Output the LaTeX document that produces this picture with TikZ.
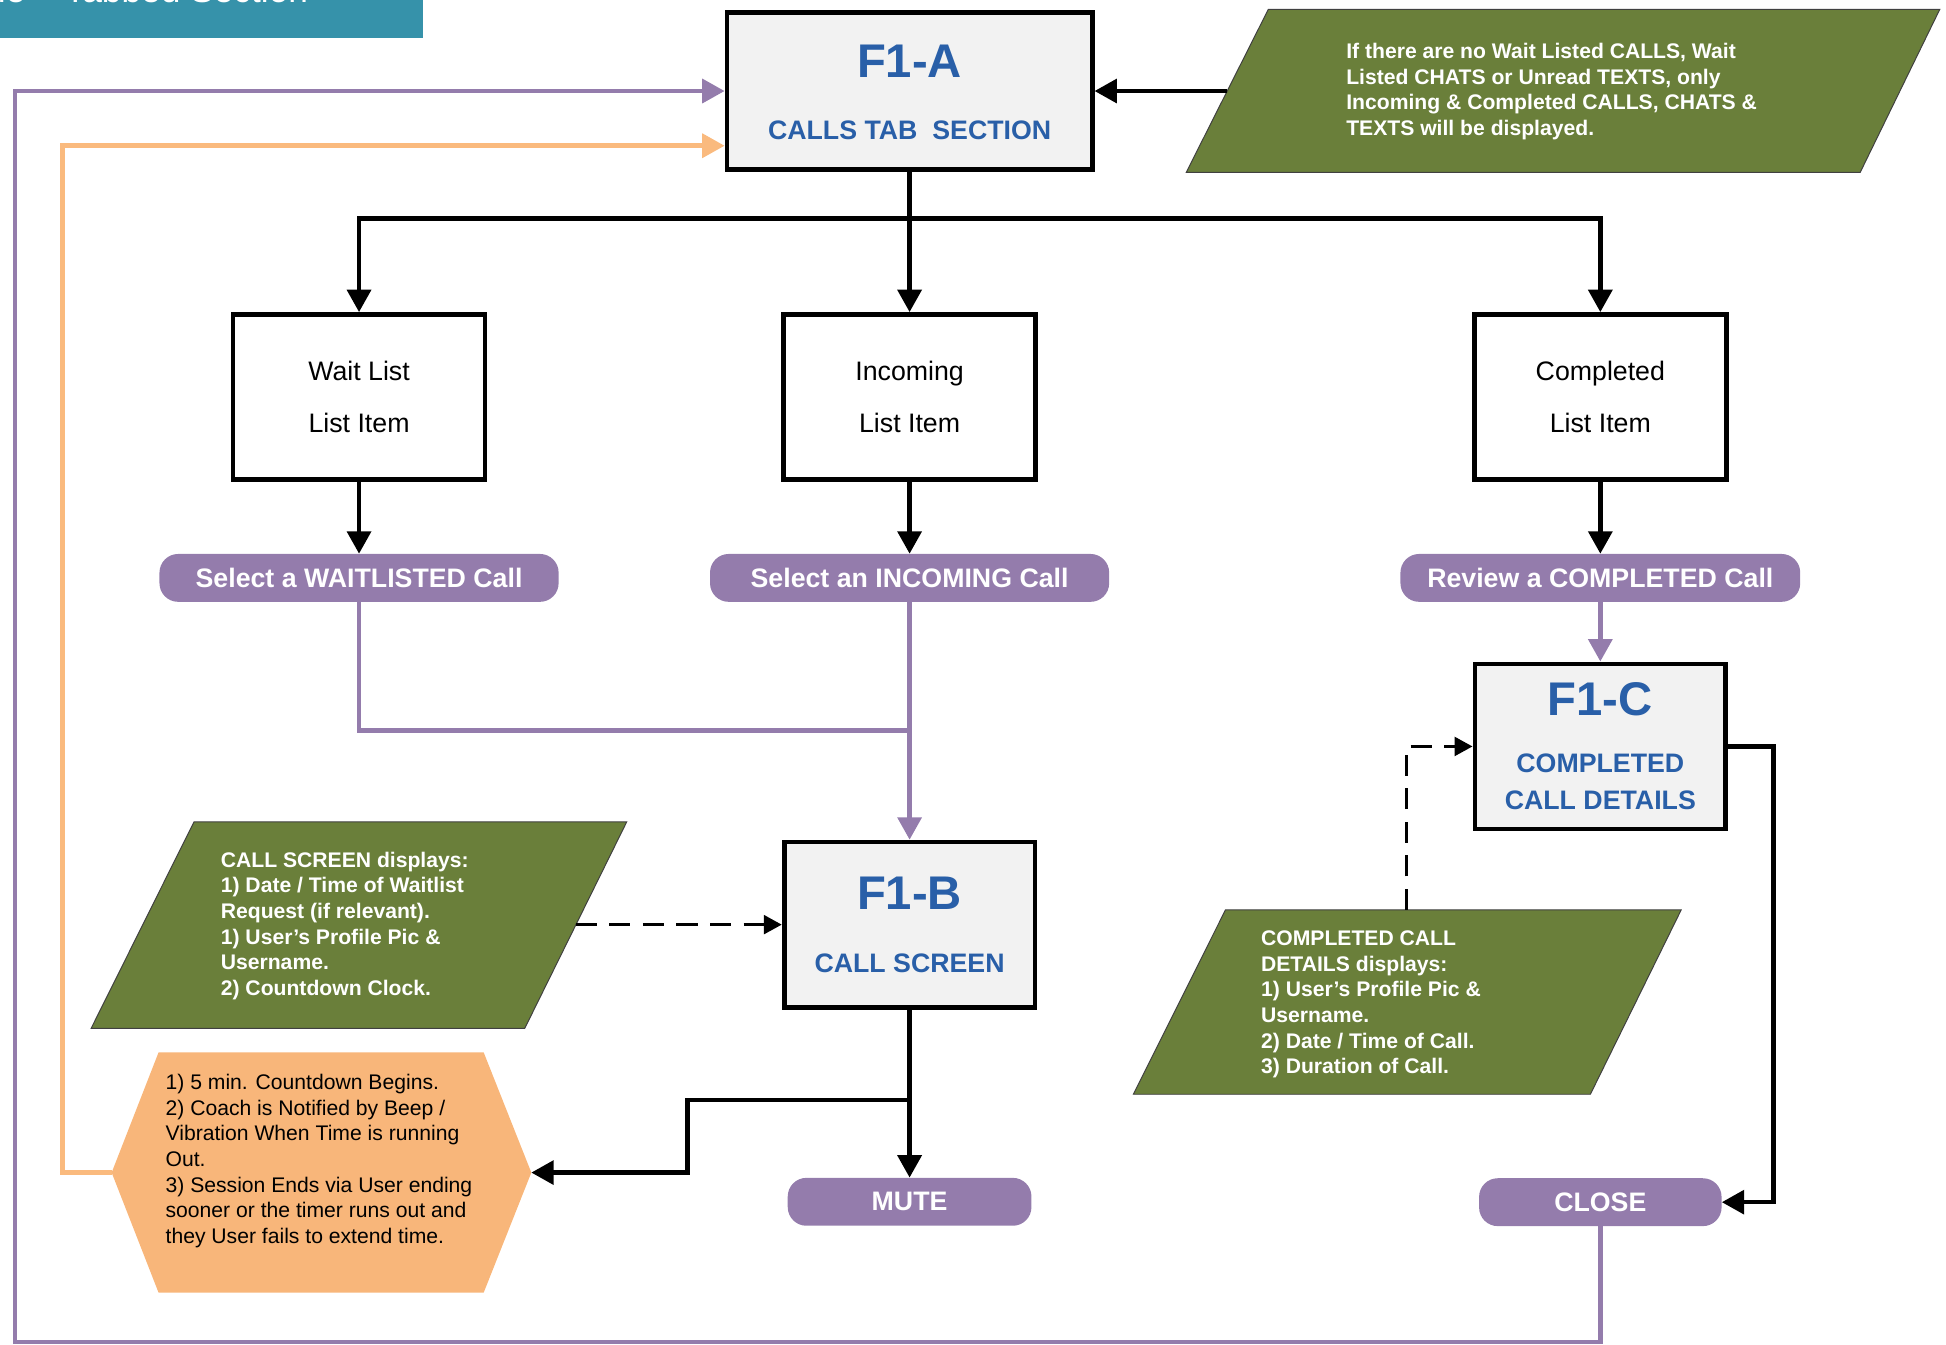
\documentclass[tikz,border=0pt]{standalone}
\usepackage{fontspec}
\setmainfont{Liberation Sans}
\usetikzlibrary{arrows.meta}
\definecolor{notegreen}{RGB}{106,127,58}
\definecolor{pillpurple}{RGB}{148,124,172}
\definecolor{hexorange}{RGB}{248,182,122}
\definecolor{lineorange}{RGB}{250,186,126}
\definecolor{titleblue}{RGB}{41,95,168}
\definecolor{boxgray}{RGB}{242,242,242}
\definecolor{headerteal}{RGB}{54,146,170}
\begin{document}
\begin{tikzpicture}[x=1pt,y=-1pt,
  fbox/.style={draw=black,line width=3.8pt,fill=boxgray,minimum width=201.7pt,minimum height=132.8pt,inner sep=0pt},
  listbox/.style={draw=black,line width=3.8pt,fill=white,minimum width=202.7pt,minimum height=132.8pt,inner sep=0pt,align=center,font=\fontsize{21.5}{42}\selectfont},
  ftitle/.style={inner sep=0pt,text=titleblue,font=\fontsize{38}{40}\selectfont\bfseries,anchor=base},
  fsub/.style={inner sep=0pt,text=titleblue,font=\fontsize{21.5}{25}\selectfont\bfseries,anchor=base},
  pill/.style={fill=pillpurple,rounded corners=15pt,minimum height=38.5pt,inner sep=0pt,text=white,font=\fontsize{21.5}{25}\selectfont\bfseries},
  note/.style={fill=notegreen,draw=black!75,line width=0.8pt},
  notetext/.style={inner sep=0pt,anchor=west,align=left,text=white,font=\fontsize{17}{20.65}\selectfont\bfseries},
  hextext/.style={inner sep=0pt,anchor=west,align=left,text=black,font=\fontsize{17}{20.63}\selectfont},
  conn/.style={draw=black,line width=3.6pt},
  arr/.style={conn,-{Triangle[length=18pt,width=19pt]}},
  pline/.style={draw=pillpurple,line width=3.6pt},
  parr/.style={pline,-{Triangle[length=18pt,width=19pt]}},
  oarr/.style={draw=lineorange,line width=3.6pt,-{Triangle[length=18pt,width=19pt]}},
  darr/.style={draw=black,line width=2.8pt,dash pattern=on 17pt off 10pt,-{Triangle[length=14.5pt,width=15pt]}}
]
\useasboundingbox (0,0) rectangle (1565,1080.9);

% header
\fill[headerteal] (0,0) rectangle (340,30.3);
\node[anchor=base east,inner sep=0pt,text=white,font=\fontsize{28.4}{30}\selectfont] (title) at (248,2.4) {le – Tabbed Section};

% shapes: notes and hexagon
\path[note] (954,138.6) -- (1020,7.5) -- (1560,7.5) -- (1496,138.6) -- cycle;
\node[notetext] (n1t) at (1082.5,73.7) {If there are no Wait Listed CALLS, Wait\\Listed CHATS or Unread TEXTS, only\\Incoming \& Completed CALLS, CHATS \&\\TEXTS will be displayed.};
\coordinate (n1w) at (987,73.2);

\path[note] (73.3,827) -- (156,661) -- (504,661) -- (422,827) -- cycle;
\node[notetext] (n2t) at (177.4,744.6) {CALL SCREEN displays:\\1) Date / Time of Waitlist\\Request (if relevant).\\1) User’s Profile Pic \&\\Username.\\2) Countdown Clock.};
\coordinate (n2e) at (463,743.6);

\path[note] (911.5,880) -- (985.5,731.8) -- (1352,731.8) -- (1279,880) -- cycle;
\node[notetext] (n3t) at (1014,807.8) {COMPLETED CALL\\DETAILS displays:\\1) User’s Profile Pic \&\\Username.\\2) Date / Time of Call.\\3) Duration of Call.};
\coordinate (n3n) at (1131,731.8);

\fill[hexorange] (89.8,943) -- (127.5,846.4) -- (389,846.4) -- (427.3,943) -- (389,1039.5) -- (127.5,1039.5) -- cycle;
\node[hextext] (hext) at (133,933.8) {1) 5 min. Countdown Begins.\\2) Coach is Notified by Beep /\\Vibration When Time is running\\Out.\\3) Session Ends via User ending\\sooner or the timer runs out and\\they User fails to extend time.};
\coordinate (hexw) at (89.8,943);
\coordinate (hexe) at (427.3,943);

% F boxes
\node[fbox,minimum width=293.7pt,minimum height=126.6pt] (f1a) at (731.5,73.2) {};
\node[ftitle] (f1a-id) at (731.5,62) {F1-A};
\node[fsub] (f1a-name) at (731.5,112) {CALLS TAB\ \ SECTION};

\node[fbox] (f1b) at (731.5,743.6) {};
\node[ftitle] (f1b-id) at (731.5,731.8) {F1-B};
\node[fsub] (f1b-name) at (731.5,782.2) {CALL SCREEN};

\node[fbox] (f1c) at (1287,600.3) {};
\node[ftitle] (f1c-id) at (1287,575.6) {F1-C};
\node[fsub] (f1c-name1) at (1287,621.5) {COMPLETED};
\node[fsub] (f1c-name2) at (1287,651) {CALL DETAILS};

% list boxes
\node[listbox] (wl) at (288.75,319.3) {Wait List\\List Item};
\node[listbox] (inc) at (731.5,319.3) {Incoming\\List Item};
\node[listbox] (comp) at (1287,319.3) {Completed\\List Item};

% pills
\node[pill,minimum width=321pt] (selw) at (288.75,464.75) {Select a WAITLISTED Call};
\node[pill,minimum width=321pt] (seli) at (731.5,464.75) {Select an INCOMING Call};
\node[pill,minimum width=321.5pt] (revc) at (1287,464.75) {Review a COMPLETED Call};
\node[pill,minimum width=196pt] (mute) at (731.5,966.5) {MUTE};
\node[pill,minimum width=195pt] (close) at (1287,966.8) {CLOSE};

% connectors
\coordinate (fork) at (731.5,175.6);
\draw[conn] (f1a.south) -- (fork);
\draw[arr] (fork) -| (wl.north);
\draw[arr] (fork) -- (inc.north);
\draw[arr] (fork) -| (comp.north);
\draw[arr] (wl.south) -- (selw.north);
\draw[arr] (inc.south) -- (seli.north);
\draw[arr] (comp.south) -- (revc.north);

\coordinate (pjoin) at (731.5,587.6);
\draw[pline] (selw.south) |- (pjoin);
\draw[parr] (seli.south) -- (f1b.north);
\draw[parr] (revc.south) -- (f1c.north);

\draw[arr] (f1b.south) -- (mute.north);
\coordinate (br) at (731.5,884.6);
\draw[arr] (br) -- ++(-178.8,0) |- (hexe);

\draw[arr] (f1c.east) -- ++(36.6,0) |- (close.east);
\draw[arr] (n1w) -- (f1a.east);
\draw[darr] (n2e) -- (f1b.west);
\draw[darr] (n3n) |- (f1c.west);

\draw[oarr] (hexw) -- ++(-39.5,0) |- ([yshift=-44pt]f1a.west);
\coordinate (bl) at (11.9,1079.3);
\draw[parr] (close.south) |- (bl) |- (f1a.west);
\end{tikzpicture}
\end{document}
